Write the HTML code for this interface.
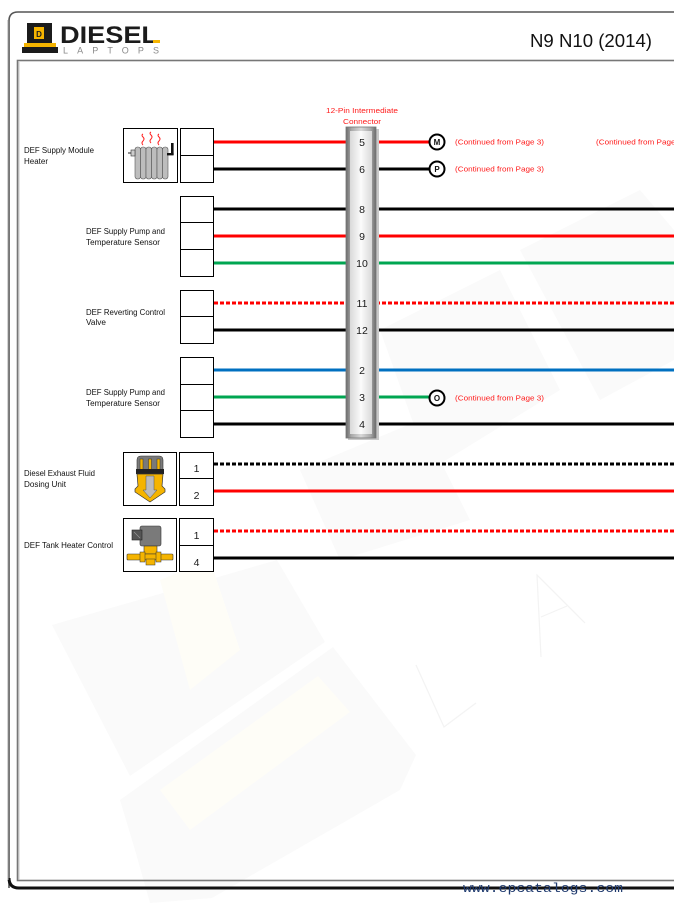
<!DOCTYPE html>
<html>
<head>
<meta charset="utf-8">
<style>
  html,body{margin:0;padding:0;background:#fff;}
  svg{display:block;}
  .lbl{font-family:"Liberation Sans",sans-serif;font-size:8px;fill:#111;}
  .pin{font-family:"Liberation Sans",sans-serif;font-size:10.5px;fill:#1a1a1a;text-anchor:middle;}
  .cont{font-family:"Liberation Sans",sans-serif;font-size:7.2px;fill:#ff1a1a;}
  .circ{font-family:"Liberation Sans",sans-serif;font-size:8px;font-weight:bold;fill:#111;text-anchor:middle;}
</style>
</head>
<body>
<svg width="674" height="903" viewBox="0 0 674 903" xmlns="http://www.w3.org/2000/svg">
  <defs>
    <linearGradient id="cg" x1="0" y1="0" x2="1" y2="0">
      <stop offset="0" stop-color="#6a6a6a"/>
      <stop offset="0.18" stop-color="#a9a9a9"/>
      <stop offset="0.5" stop-color="#d8d8d8"/>
      <stop offset="0.82" stop-color="#a9a9a9"/>
      <stop offset="1" stop-color="#6a6a6a"/>
    </linearGradient>
    <linearGradient id="cg2" x1="0" y1="0" x2="1" y2="0">
      <stop offset="0" stop-color="#d9d9d9"/>
      <stop offset="0.5" stop-color="#fbfbfb"/>
      <stop offset="1" stop-color="#d9d9d9"/>
    </linearGradient>
  </defs>

  <!-- faint watermark -->
  <g fill="#fafafa">
    <polygon points="52,625 277,560 325,642 130,776"/>
    <polygon points="120,800 333,647 416,755 400,790 212,898 150,903 135,850"/>
    <polygon points="380,330 500,270 560,390 430,470"/>
    <polygon points="520,250 640,190 674,230 674,360 600,400"/>
    <polygon points="300,470 420,420 470,520 340,560"/>
  </g>
  <g fill="#fefdf7">
    <polygon points="160,580 210,560 240,650 190,690"/>
    <polygon points="160,790 318,676 350,712 190,830"/>
  </g>
  <g stroke="#f3f3f3" stroke-width="1.2" fill="none">
    <polyline points="416,665 444,727 476,703"/>
    <polyline points="541,657 537,575 585,623"/>
    <line x1="541" y1="617" x2="567" y2="606"/>
  </g>

  <!-- page frame -->
  <path d="M9,888 L9,21 Q9,12 18,12 L680,12" fill="none" stroke="#555" stroke-width="1.6"/>
  <path d="M9,878 Q9,888 19,888 L680,888" fill="none" stroke="#111" stroke-width="3"/>
  <line x1="8" y1="20" x2="8" y2="880" stroke="#aaa" stroke-width="1"/>
  <rect x="17.5" y="60.5" width="680" height="820" fill="none" stroke="#777" stroke-width="1.6"/>
  <line x1="19" y1="62" x2="19" y2="880" stroke="#bbb" stroke-width="0.8"/>

  <!-- logo -->
  <g>
    <rect x="27" y="23" width="25" height="20" fill="#1b1b1b"/>
    <rect x="34" y="27" width="10" height="12" fill="#f5b400"/>
    <text x="39" y="37" font-family="Liberation Sans,sans-serif" font-size="8" font-weight="bold" fill="#1b1b1b" text-anchor="middle">D</text>
    <rect x="24" y="43" width="32" height="4" fill="#f5b400"/>
    <rect x="22" y="47" width="36" height="6" fill="#1b1b1b"/>
    <text x="60" y="43" font-family="Liberation Sans,sans-serif" font-size="24" font-weight="bold" fill="#1b1b1b" textLength="98" lengthAdjust="spacingAndGlyphs">DIESEL</text>
    <rect x="153" y="40" width="7" height="3" fill="#f5b400"/>
    <text x="63" y="53.5" font-family="Liberation Sans,sans-serif" font-size="9" fill="#8a8a8a" textLength="96" lengthAdjust="spacing">LAPTOPS</text>
  </g>
  <text x="530" y="47" font-family="Liberation Sans,sans-serif" font-size="18" fill="#111" textLength="122" lengthAdjust="spacingAndGlyphs">N9 N10 (2014)</text>

  <!-- component labels -->
  <text class="lbl" x="24" y="153" textLength="70" lengthAdjust="spacingAndGlyphs">DEF Supply Module</text>
  <text class="lbl" x="24" y="164" textLength="24" lengthAdjust="spacingAndGlyphs">Heater</text>
  <text class="lbl" x="86" y="234" textLength="79" lengthAdjust="spacingAndGlyphs">DEF Supply Pump and</text>
  <text class="lbl" x="86" y="245" textLength="74" lengthAdjust="spacingAndGlyphs">Temperature Sensor</text>
  <text class="lbl" x="86" y="315" textLength="79" lengthAdjust="spacingAndGlyphs">DEF Reverting Control</text>
  <text class="lbl" x="86" y="325" textLength="20" lengthAdjust="spacingAndGlyphs">Valve</text>
  <text class="lbl" x="86" y="395" textLength="79" lengthAdjust="spacingAndGlyphs">DEF Supply Pump and</text>
  <text class="lbl" x="86" y="406" textLength="74" lengthAdjust="spacingAndGlyphs">Temperature Sensor</text>
  <text class="lbl" x="24" y="476" textLength="71" lengthAdjust="spacingAndGlyphs">Diesel Exhaust Fluid</text>
  <text class="lbl" x="24" y="487" textLength="42" lengthAdjust="spacingAndGlyphs">Dosing Unit</text>
  <text class="lbl" x="24" y="548" textLength="89" lengthAdjust="spacingAndGlyphs">DEF Tank Heater Control</text>

  <!-- icon boxes -->
  <rect x="123.5" y="128.5" width="54" height="54" fill="#fff" stroke="#000" stroke-width="1"/>
  <rect x="123.5" y="452.5" width="53" height="53" fill="#fff" stroke="#000" stroke-width="1"/>
  <rect x="123.5" y="518.5" width="53" height="53" fill="#fff" stroke="#000" stroke-width="1"/>

  <!-- heater icon -->
  <g fill="none" stroke="#ff2020" stroke-width="1">
    <path d="M143,145 q-2,-2 0,-4 q2,-2 0,-4 q-2,-2 0,-3"/>
    <path d="M151,143 q-2,-2 0,-4 q2,-2 0,-4 q-2,-2 0,-3"/>
    <path d="M159,145 q-2,-2 0,-4 q2,-2 0,-4 q-2,-2 0,-3"/>
  </g>
  <g fill="#bdbdbd" stroke="#555" stroke-width="0.6">
    <rect x="135" y="147" width="5.5" height="32" rx="2.5"/>
    <rect x="140.5" y="147" width="5.5" height="32" rx="2.5"/>
    <rect x="146" y="147" width="5.5" height="32" rx="2.5"/>
    <rect x="151.5" y="147" width="5.5" height="32" rx="2.5"/>
    <rect x="157" y="147" width="5.5" height="32" rx="2.5"/>
    <rect x="162.5" y="147" width="5.5" height="32" rx="2.5"/>
  </g>
  <rect x="131" y="150" width="4" height="6" fill="#ccc" stroke="#333" stroke-width="0.6"/>
  <line x1="128" y1="153" x2="131" y2="153" stroke="#222" stroke-width="1"/>
  <rect x="171" y="143" width="2.6" height="12" fill="#111"/>
  <rect x="167" y="153" width="6.6" height="2.4" fill="#111"/>

  <!-- dosing unit icon -->
  <path d="M137,474 L137,460 Q137,456 141,456 L159,456 Q163,456 163,460 L163,474 Z" fill="#7a7a7a" stroke="#333" stroke-width="0.6"/>
  <g fill="#f5b400" stroke="#333" stroke-width="0.5">
    <rect x="140" y="459" width="3" height="11"/>
    <rect x="148.5" y="459" width="3" height="11"/>
    <rect x="157" y="459" width="3" height="11"/>
  </g>
  <rect x="136" y="469" width="28" height="5" fill="#222"/>
  <path d="M137,474 L163,474 L162,486 L165,489 L165,492 L150,502 L135,492 L135,489 L138,486 Z" fill="#f5b400" stroke="#333" stroke-width="0.7"/>
  <path d="M146,476 L154,476 L154,490 L157,490 L150,498 L143,490 L146,490 Z" fill="#bcbcbc" stroke="#555" stroke-width="0.5"/>

  <!-- tank heater control icon -->
  <rect x="140" y="526" width="21" height="20" rx="2" fill="#7a7a7a" stroke="#333" stroke-width="0.6"/>
  <rect x="132" y="530" width="10" height="10" fill="#555" stroke="#222" stroke-width="0.6"/>
  <line x1="134" y1="532" x2="140" y2="538" stroke="#999" stroke-width="0.6"/>
  <rect x="144" y="546" width="13" height="8" fill="#f5b400" stroke="#333" stroke-width="0.6"/>
  <rect x="127" y="554" width="46" height="6" rx="1" fill="#f5b400" stroke="#333" stroke-width="0.6"/>
  <rect x="140" y="552" width="5" height="10" fill="#f5b400" stroke="#333" stroke-width="0.5"/>
  <rect x="156" y="552" width="5" height="10" fill="#f5b400" stroke="#333" stroke-width="0.5"/>
  <rect x="146" y="559" width="9" height="6" fill="#f5b400" stroke="#333" stroke-width="0.5"/>

  <!-- pin boxes -->
  <g fill="#fff" stroke="#000" stroke-width="1">
    <rect x="180.5" y="128.5" width="33" height="54"/>
    <line x1="180.5" y1="155.5" x2="213.5" y2="155.5"/>
    <rect x="180.5" y="196.5" width="33" height="80"/>
    <line x1="180.5" y1="222.5" x2="213.5" y2="222.5"/>
    <line x1="180.5" y1="249.5" x2="213.5" y2="249.5"/>
    <rect x="180.5" y="290.5" width="33" height="53"/>
    <line x1="180.5" y1="316.5" x2="213.5" y2="316.5"/>
    <rect x="180.5" y="357.5" width="33" height="80"/>
    <line x1="180.5" y1="384.5" x2="213.5" y2="384.5"/>
    <line x1="180.5" y1="410.5" x2="213.5" y2="410.5"/>
    <rect x="179.5" y="452.5" width="34" height="53"/>
    <line x1="179.5" y1="478.5" x2="213.5" y2="478.5"/>
    <rect x="179.5" y="518.5" width="34" height="53"/>
    <line x1="179.5" y1="545.5" x2="213.5" y2="545.5"/>
  </g>
  <text class="pin" x="196.5" y="472">1</text>
  <text class="pin" x="196.5" y="499">2</text>
  <text class="pin" x="196.5" y="539">1</text>
  <text class="pin" x="196.5" y="566">4</text>

  <!-- wires -->
  <g stroke-width="3" fill="none">
    <line x1="214" y1="142" x2="429" y2="142" stroke="#ff0000"/>
    <line x1="214" y1="169" x2="429" y2="169" stroke="#000"/>
    <line x1="214" y1="209" x2="674" y2="209" stroke="#000"/>
    <line x1="214" y1="236" x2="674" y2="236" stroke="#ff0000"/>
    <line x1="214" y1="263" x2="674" y2="263" stroke="#00a651"/>
    <line x1="214" y1="303" x2="674" y2="303" stroke="#ff0000" stroke-dasharray="4 2"/>
    <line x1="214" y1="330" x2="674" y2="330" stroke="#000"/>
    <line x1="214" y1="370" x2="674" y2="370" stroke="#0070c0"/>
    <line x1="214" y1="397" x2="429" y2="397" stroke="#00a651"/>
    <line x1="214" y1="424" x2="674" y2="424" stroke="#000"/>
    <line x1="214" y1="464" x2="674" y2="464" stroke="#000" stroke-dasharray="4 2"/>
    <line x1="214" y1="491" x2="674" y2="491" stroke="#ff0000"/>
    <line x1="214" y1="531" x2="674" y2="531" stroke="#ff0000" stroke-dasharray="4 2"/>
    <line x1="214" y1="558" x2="674" y2="558" stroke="#000"/>
  </g>

  <!-- connector -->
  <text class="cont" x="362" y="113" text-anchor="middle" textLength="72" lengthAdjust="spacingAndGlyphs">12-Pin Intermediate</text>
  <text class="cont" x="362" y="124" text-anchor="middle" textLength="38" lengthAdjust="spacingAndGlyphs">Connector</text>
  <rect x="348" y="129" width="31" height="311" fill="#c8c8c8"/>
  <rect x="346" y="127" width="30" height="311" fill="url(#cg)" stroke="#777" stroke-width="0.8"/>
  <rect x="350" y="131" width="22" height="303" fill="url(#cg2)"/>
  <text class="pin" x="362" y="146">5</text>
  <text class="pin" x="362" y="173">6</text>
  <text class="pin" x="362" y="213">8</text>
  <text class="pin" x="362" y="240">9</text>
  <text class="pin" x="362" y="267">10</text>
  <text class="pin" x="362" y="307">11</text>
  <text class="pin" x="362" y="334">12</text>
  <text class="pin" x="362" y="374">2</text>
  <text class="pin" x="362" y="401">3</text>
  <text class="pin" x="362" y="428">4</text>

  <!-- continuation circles -->
  <g fill="#fff" stroke="#000" stroke-width="2">
    <circle cx="437" cy="142" r="7.5"/>
    <circle cx="437" cy="169" r="7.5"/>
    <circle cx="437" cy="398" r="7.5"/>
  </g>
  <text class="circ" x="437" y="145">M</text>
  <text class="circ" x="437" y="172">P</text>
  <text class="circ" x="437" y="401">O</text>
  <text class="cont" x="455" y="144.5" textLength="89" lengthAdjust="spacingAndGlyphs">(Continued from Page 3)</text>
  <text class="cont" x="455" y="171.5" textLength="89" lengthAdjust="spacingAndGlyphs">(Continued from Page 3)</text>
  <text class="cont" x="455" y="400.5" textLength="89" lengthAdjust="spacingAndGlyphs">(Continued from Page 3)</text>
  <text class="cont" x="596" y="144.5" textLength="89" lengthAdjust="spacingAndGlyphs">(Continued from Page 3)</text>

  <!-- footer watermark text -->
  <text x="463" y="892" font-family="Liberation Mono,monospace" font-size="13" fill="#1f3a6e" textLength="160" lengthAdjust="spacingAndGlyphs">www.epcatalogs.com</text>
</svg>
</body>
</html>
